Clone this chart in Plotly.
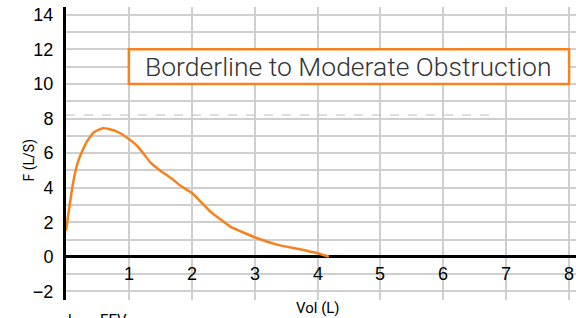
import plotly.graph_objects as go

# Flow-volume curve (Vol in L, Flow in L/S)
vol = [0, 0.045, 0.10, 0.18, 0.26, 0.34, 0.44, 0.58, 0.68, 0.84, 1.0, 1.13, 1.24, 1.34, 1.5,
       1.69, 1.82, 2.0, 2.3, 2.62, 3.02, 3.37, 3.68, 4.0, 4.18]
flow = [1.5, 2.67, 4.02, 5.37, 6.13, 6.71, 7.19, 7.44, 7.39, 7.19, 6.81, 6.42, 5.94, 5.46, 4.98,
        4.5, 4.11, 3.7, 2.6, 1.73, 1.1, 0.69, 0.46, 0.2, 0.0]

x_ticks = [1, 2, 3, 4, 5, 6, 7, 8]
y_ticks = [-2, 0, 2, 4, 6, 8, 10, 12, 14]
ref_flow = 8.2
ref_end = 6.8
label_text = "Borderline to Moderate Obstruction"
label_box = [1, 10, 8, 12]

ORANGE = "#f5821f"
GRID = "#cfcfcf"
FONT = "Liberation Sans"

fig = go.Figure()
fig.add_trace(go.Scatter(x=vol, y=flow, mode="lines",
                         line=dict(color=ORANGE, width=2.5, shape="spline", smoothing=0.3),
                         showlegend=False, hoverinfo="skip"))

fig.update_layout(
    width=576, height=318,
    margin=dict(l=66, r=0, t=7, b=18, autoexpand=False),
    paper_bgcolor="white", plot_bgcolor="white",
    showlegend=False,
    xaxis=dict(range=[0, 8.11], tickvals=x_ticks, showticklabels=False, automargin=False,
               showgrid=True, gridcolor=GRID, gridwidth=1.5,
               zeroline=False, showline=False, fixedrange=True),
    yaxis=dict(range=[-2.5, 14.45], tickvals=y_ticks, automargin=False,
               tickfont=dict(family=FONT, size=18, color="black"),
               ticklabeloverflow="allow",
               showgrid=True, gridcolor=GRID, gridwidth=1.5,
               minor=dict(dtick=1, tick0=0, showgrid=True, gridcolor=GRID, gridwidth=1.5),
               zeroline=True, zerolinecolor="black", zerolinewidth=3,
               showline=True, linecolor="black", linewidth=3,
               ticklabelstandoff=6, fixedrange=True),
)

# reference dashed line
fig.add_shape(type="line", x0=0, x1=ref_end, y0=ref_flow, y1=ref_flow,
              line=dict(color="#bdbdbd", width=1, dash="dash"), layer="above")

# label box
fig.add_shape(type="rect", x0=label_box[0], y0=label_box[1], x1=label_box[2], y1=label_box[3],
              line=dict(color=ORANGE, width=2.5), fillcolor="white", layer="above")
fig.add_annotation(x=(label_box[0] + label_box[2]) / 2, y=(label_box[1] + label_box[3]) / 2,
                   text=label_text, showarrow=False,
                   font=dict(family="Roboto", size=26.5, color="#333333", weight=300))

# x tick labels, drawn inside the plot at y = -1
for xv in x_ticks:
    fig.add_annotation(x=xv, y=-1, text=str(xv), showarrow=False,
                       font=dict(family=FONT, size=18, color="black"))

# axis titles
fig.add_annotation(x=4, y=-0.027, xref="x", yref="paper", text="Vol (L)", showarrow=False,
                   yanchor="middle", font=dict(family="Roboto", size=15, color="black"))
fig.add_annotation(x=(18 - 66) / 510, y=(300 - 160) / 293, xref="paper", yref="paper",
                   text="F (L/S)", textangle=-90, showarrow=False,
                   font=dict(family="Roboto", size=14, color="black"))

# partially visible legend at the bottom (cut off by the frame, as in the original)
fig.add_annotation(x=0, y=-0.068, xref="paper", yref="paper", text="l   –  FEV",
                   xanchor="left", yanchor="middle", showarrow=False,
                   font=dict(family="Roboto", size=15, color="black"))

fig.write_html("out.html", config={"displayModeBar": False},
               post_script="document.body.style.margin='0';document.body.style.overflow='hidden';")
